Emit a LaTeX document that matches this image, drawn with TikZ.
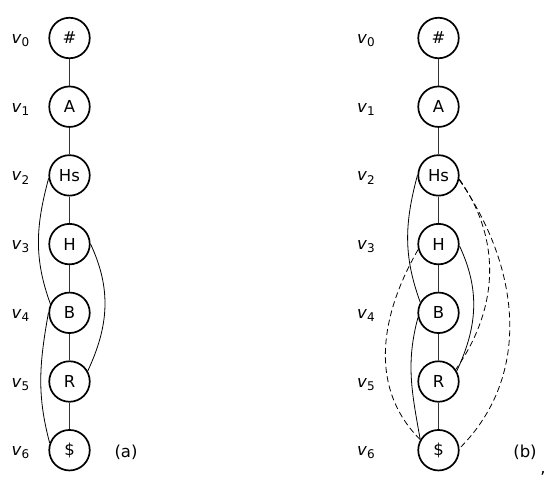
\documentclass[tikz,border=0pt]{standalone}
\usepackage{fontspec}
\setmainfont{DejaVu Sans}
\usepackage{tikz}
\usetikzlibrary{positioning}

\tikzset{
	vtx/.style={circle, draw, line width=1.7pt, minimum size=40.5pt, inner sep=0pt, font=\fontsize{16.5}{19}\selectfont},
	chainline/.style={line width=1.2pt, black!80},
	arcline/.style={line width=0.8pt},
	dasharc/.style={line width=0.8pt, dash pattern=on 6pt off 3.5pt},
	lab/.style={font=\fontsize{16.5}{19}\selectfont, inner sep=0pt},
}

\newcommand{\vlab}[1]{\textit{v}\raisebox{-0.35ex}{\fontsize{12}{13}\selectfont #1}}

\begin{document}
\begin{tikzpicture}[x=1pt, y=1pt]
	
	% ------------------------------------------------
	% Ensure the dimensions of graphic are appropriate
	\useasboundingbox (0,0) rectangle (557,-493);
	
	% ------------------------------------------------
	% Left column (a)
	\node[vtx] (LeftV0) at (69.5,-38) {\#};
	\node[vtx, below=26.5pt of LeftV0] (LeftV1) {A};
	\node[vtx, below=26.5pt of LeftV1] (LeftV2) {Hs};
	\node[vtx, below=26.5pt of LeftV2] (LeftV3) {H};
	\node[vtx, below=26.5pt of LeftV3] (LeftV4) {B};
	\node[vtx, below=26.5pt of LeftV4] (LeftV5) {R};
	\node[vtx, below=26.5pt of LeftV5] (LeftV6) {\$};
	
	\path (LeftV0) +(-49,-5.5) node[lab, anchor=base] (LeftL0) {\vlab{0}};
	\path (LeftV1) +(-49,-5.5) node[lab, anchor=base] (LeftL1) {\vlab{1}};
	\path (LeftV2) +(-49,-5.5) node[lab, anchor=base] (LeftL2) {\vlab{2}};
	\path (LeftV3) +(-49,-5.5) node[lab, anchor=base] (LeftL3) {\vlab{3}};
	\path (LeftV4) +(-49,-5.5) node[lab, anchor=base] (LeftL4) {\vlab{4}};
	\path (LeftV5) +(-49,-5.5) node[lab, anchor=base] (LeftL5) {\vlab{5}};
	\path (LeftV6) +(-49,-5.5) node[lab, anchor=base] (LeftL6) {\vlab{6}};
	
	\path (LeftV6) +(56.5,-2) node[lab] (LeftCap) {(a)};
	
	% ----------------
	% Chain and arcs
	\draw[chainline] (LeftV0) -- (LeftV1) -- (LeftV2) -- (LeftV3) -- (LeftV4) -- (LeftV5) -- (LeftV6);
	
	\draw[arcline] (LeftV2.188) to[out=255, in=110] (LeftV4.155);
	\draw[arcline] (LeftV3.0)   to[out=-65, in=65]  (LeftV5.30);
	\draw[arcline] (LeftV4.180) to[out=260, in=105] (LeftV6.160);
	
	% ------------------------------------------------
	% Right column (b)
	\node[vtx] (RightV0) at (438.5,-38) {\#};
	\node[vtx, below=26.5pt of RightV0] (RightV1) {A};
	\node[vtx, below=26.5pt of RightV1] (RightV2) {Hs};
	\node[vtx, below=26.5pt of RightV2] (RightV3) {H};
	\node[vtx, below=26.5pt of RightV3] (RightV4) {B};
	\node[vtx, below=26.5pt of RightV4] (RightV5) {R};
	\node[vtx, below=26.5pt of RightV5] (RightV6) {\$};
	
	\path (RightV0) +(-72.5,-5.5) node[lab, anchor=base] (RightL0) {\vlab{0}};
	\path (RightV1) +(-72.5,-5.5) node[lab, anchor=base] (RightL1) {\vlab{1}};
	\path (RightV2) +(-72.5,-5.5) node[lab, anchor=base] (RightL2) {\vlab{2}};
	\path (RightV3) +(-72.5,-5.5) node[lab, anchor=base] (RightL3) {\vlab{3}};
	\path (RightV4) +(-72.5,-5.5) node[lab, anchor=base] (RightL4) {\vlab{4}};
	\path (RightV5) +(-72.5,-5.5) node[lab, anchor=base] (RightL5) {\vlab{5}};
	\path (RightV6) +(-72.5,-5.5) node[lab, anchor=base] (RightL6) {\vlab{6}};
	
	\path (RightV6) +(86.5,-2) node[lab] (RightCap) {(b)};
	\path (RightCap) +(18,-21) node[lab, anchor=base] (Comma) {,};
	
	% ----------------
	% Chain and arcs
	\draw[chainline] (RightV0) -- (RightV1) -- (RightV2) -- (RightV3) -- (RightV4) -- (RightV5) -- (RightV6);
	
	\draw[arcline] (RightV2.180) to[out=255, in=110] (RightV4.150);
	\draw[arcline] (RightV4.193) to[out=255, in=100] (RightV6.150);
	\draw[arcline] (RightV3.-5)  to[out=-65, in=65]  (RightV5.30);
	
	\draw[dasharc] (RightV2.-10) to[out=-55, in=55]  (RightV5.35);
	\draw[dasharc] (RightV2.-12) to[out=-55, in=45]  (RightV6.5);
	\draw[dasharc] (RightV3.195) to[out=240, in=135] (RightV6.150);
	
\end{tikzpicture}
\end{document}
